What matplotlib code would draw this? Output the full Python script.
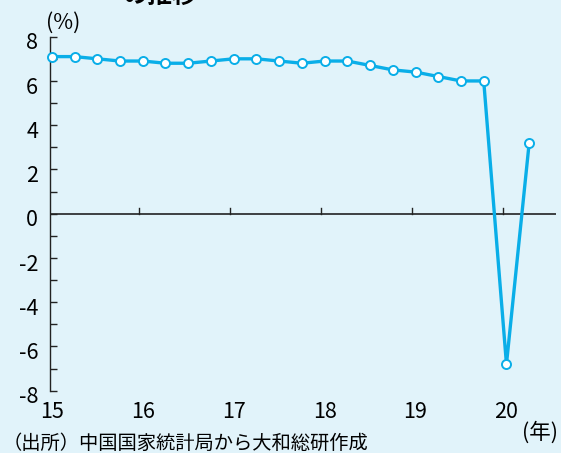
import matplotlib
matplotlib.use("Agg")
import matplotlib.pyplot as plt
import matplotlib.transforms as mtransforms
import numpy as np

plt.rcParams['font.family'] = ['Noto Sans CJK JP', 'DejaVu Sans']

# quarterly real GDP growth (y/y, %), 2015Q1 - 2020Q2
years = [2015, 2016, 2017, 2018, 2019, 2020]
growth = [7.1, 7.1, 7.0, 6.9,
          6.9, 6.8, 6.8, 6.9,
          7.0, 7.0, 6.9, 6.8,
          6.9, 6.9, 6.7, 6.5,
          6.4, 6.2, 6.0, 6.0,
          -6.8, 3.2]
year_labels = ["15", "16", "17", "18", "19", "20"]
y_major = [-8, -6, -4, -2, 0, 2, 4, 6, 8]

bg = "#e1f3fa"
line_col = "#0aaee8"

quarters = years[0] + np.arange(len(growth)) / 4 + 0.015

fig = plt.figure(figsize=(5.61, 4.53), dpi=100, facecolor=bg)
ax = fig.add_axes([0.0891, 0.1375, 0.902, 0.7815])
ax.set_facecolor(bg)

ax.plot(quarters, growth, color=line_col, lw=2.4, marker="o", ms=6.5,
        mfc="white", mec=line_col, mew=1.4, zorder=3, clip_on=False)

ax.set_xlim(years[0] - 0.005, years[-1] + 0.56)
ax.set_ylim(-8, 8)

# zero line with small year ticks pointing up
ax.axhline(0, color="#222222", lw=1.2, zorder=2)
for yr in years[1:]:
    ax.plot([yr - 0.025, yr - 0.025], [0, 0.28], color="#222222", lw=1.0, zorder=2)

for s in ["top", "right", "bottom"]:
    ax.spines[s].set_visible(False)
ax.spines["left"].set_color("#222222")
ax.spines["left"].set_linewidth(1.0)

ax.set_yticks(y_major)
ax.set_yticklabels([str(v) for v in y_major], fontsize=15.5)
ax.set_yticks(np.arange(-7, 8, 2), minor=True)
ax.tick_params(axis="y", which="both", direction="in", length=5, width=1.0,
               color="#222222")
ax.tick_params(axis="y", which="major", pad=8.5)
# nudge y labels down a little
shift = mtransforms.ScaledTranslation(0, -3 / 72, fig.dpi_scale_trans)
for lbl in ax.get_yticklabels():
    lbl.set_transform(lbl.get_transform() + shift)

ax.set_xticks(quarters[::4])
ax.set_xticklabels(year_labels, fontsize=15.5)
ax.tick_params(axis="x", length=0, pad=7.5)

fig.text(0.082, 0.950, "(%)", fontsize=15.5, ha="left", va="center")
fig.text(0.994, 0.046, "(年)", fontsize=15.5, ha="right", va="center")
fig.text(0.004, 0.022, "（出所）中国国家統計局から大和総研作成", fontsize=13.9,
         ha="left", va="center")
fig.text(0.219, 1.008, "の推移", fontsize=18, fontweight="bold",
         ha="left", va="center")

fig.savefig("out.png", dpi=100, facecolor=bg)
